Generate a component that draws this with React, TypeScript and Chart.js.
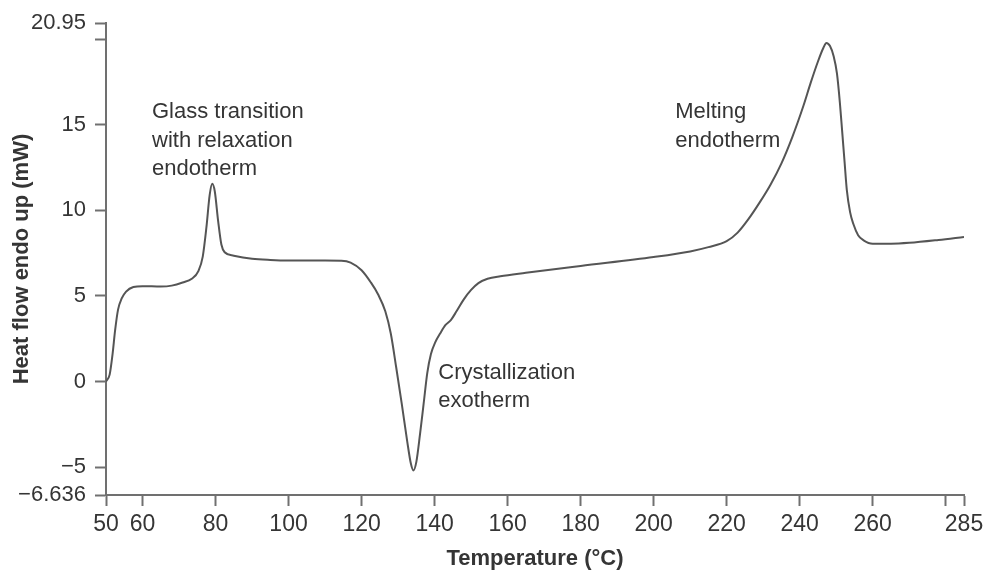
import React, { useEffect, useRef } from "react";
import { Chart, registerables } from "chart.js";

Chart.register(...registerables);

// DSC trace: temperature (°C) and heat flow, endo up (mW)
const temperatures = [
  50, 51, 51.8, 52.5, 53.3, 54.3, 55.5, 57.5, 60, 65, 68, 71, 73.5, 75.3, 76.5, 77.5,
  78.4, 79.1, 79.8, 80.7, 81.6, 82.5, 85, 90, 95, 100, 110, 114.5, 117, 120, 122.5,
  124.5, 126.5, 128, 129.5, 131, 132.5, 133.5, 134.2, 135, 136, 137, 138, 139, 140.2,
  141.5, 143, 144.5, 146, 148, 150, 152, 154.5, 158, 165, 180, 200, 210, 215, 220,
  223, 226, 229, 232, 235, 238, 241, 243, 245, 246.5, 247.3, 248.3, 249.3, 250.2,
  251, 251.6, 252.3, 252.9, 253.8, 254.7, 256, 257.5, 260, 265, 270, 278, 285,
];

const heatFlow = [
  0, 0.4, 1.6, 3.0, 4.2, 4.85, 5.25, 5.52, 5.57, 5.55, 5.6, 5.78, 6.0, 6.45, 7.3, 9.0,
  10.9, 11.55, 11.1, 9.4, 8.0, 7.55, 7.35, 7.17, 7.1, 7.07, 7.07, 7.06, 6.95, 6.5, 5.8,
  5.1, 4.1, 2.8, 0.8, -1.3, -3.5, -4.8, -5.2, -4.7, -3.1, -1.3, 0.5, 1.6, 2.3,
  2.8, 3.3, 3.6, 4.1, 4.8, 5.35, 5.75, 6.0, 6.15, 6.35, 6.75, 7.27, 7.6, 7.85, 8.2,
  8.7, 9.5, 10.45, 11.5, 12.75, 14.3, 16.1, 17.45, 18.7, 19.5, 19.78, 19.6, 19.0, 18.0,
  16.3, 14.7, 12.8, 11.2, 9.9, 9.2, 8.55, 8.25, 8.05, 8.05, 8.1, 8.27, 8.45,
];

const xTickValues = [50, 60, 80, 100, 120, 140, 160, 180, 200, 220, 240, 260, 280, 285];
const xUnlabeled = [280];
const yTickValues = [-6.636, -5, 0, 5, 10, 15, 20, 20.95];
const yUnlabeled = [20];

const xMin = 50;
const xMax = 285;
const yMin = -6.636;
const yMax = 20.95;

// Callout texts, anchored at (temperature, heat flow) of the first line's baseline
const calloutLines = [
  ["Glass transition", "with relaxation", "endotherm"],
  ["Crystallization", "exotherm"],
  ["Melting", "endotherm"],
];
const calloutTemps = [62.6, 141.0, 205.9];
const calloutFlows = [15.38, 0.17, 15.38];

const FONT = "'Liberation Sans', Arial, Helvetica, sans-serif";
const TEXT = "#353535";
const AXIS = "#707070";
const LINE = "#555555";

const fmt = (v: number) => {
  const s = String(v);
  return v < 0 ? "\u2212" + s.slice(1) : s;
};

const calloutPlugin = {
  id: "callouts",
  afterDatasetsDraw(chart: any) {
    const { ctx, scales } = chart;
    ctx.save();
    ctx.fillStyle = TEXT;
    ctx.font = `22px ${FONT}`;
    ctx.textAlign = "left";
    ctx.textBaseline = "alphabetic";
    calloutLines.forEach((lines, i) => {
      const px = scales.x.getPixelForValue(calloutTemps[i]);
      const py = scales.y.getPixelForValue(calloutFlows[i]);
      lines.forEach((line, j) => ctx.fillText(line, px, py + j * 28.5));
    });
    ctx.restore();
  },
};

export default function App() {
  const canvasRef = useRef<HTMLCanvasElement | null>(null);

  useEffect(() => {
    if (!canvasRef.current) return;
    const points = temperatures.map((t, i) => ({ x: t, y: heatFlow[i] }));

    const chart = new Chart(canvasRef.current, {
      type: "line",
      data: {
        datasets: [
          {
            data: points,
            borderColor: LINE,
            borderWidth: 2,
            pointRadius: 0,
            fill: false,
            cubicInterpolationMode: "monotone",
          },
        ],
      },
      options: {
        animation: false,
        responsive: true,
        maintainAspectRatio: false,
        layout: { padding: { top: 23, right: 21, bottom: 0, left: 0 } },
        plugins: {
          legend: { display: false },
          tooltip: { enabled: false },
        },
        scales: {
          x: {
            type: "linear",
            min: xMin,
            max: xMax,
            afterBuildTicks: (scale: any) => {
              scale.ticks = xTickValues.map((v) => ({ value: v }));
            },
            afterFit: (scale: any) => {
              scale.height = 76;
              scale.paddingLeft = 0;
              scale.paddingRight = 0;
            },
            ticks: {
              autoSkip: false,
              maxRotation: 0,
              padding: 5,
              color: TEXT,
              font: { family: FONT, size: 23 },
              callback: (v: any) => (xUnlabeled.includes(Number(v)) ? "" : fmt(Number(v))),
            },
            grid: {
              drawOnChartArea: false,
              drawTicks: true,
              tickLength: 11,
              tickWidth: 2,
              tickColor: AXIS,
            },
            border: { display: true, color: AXIS, width: 2 },
            title: {
              display: true,
              text: "Temperature (°C)",
              color: TEXT,
              font: { family: FONT, size: 22, weight: "bold", lineHeight: 1.1 },
              padding: { top: 0, bottom: 0 },
            },
          },
          y: {
            type: "linear",
            min: yMin,
            max: yMax,
            afterBuildTicks: (scale: any) => {
              scale.ticks = yTickValues.map((v) => ({ value: v }));
            },
            afterFit: (scale: any) => {
              scale.width = 106;
              scale.paddingTop = 0;
              scale.paddingBottom = 0;
            },
            ticks: {
              autoSkip: false,
              padding: 9,
              color: TEXT,
              font: { family: FONT, size: 22 },
              callback: (v: any) => (yUnlabeled.includes(Number(v)) ? "" : fmt(Number(v))),
            },
            grid: {
              drawOnChartArea: false,
              drawTicks: true,
              tickLength: 11,
              tickWidth: 2,
              tickColor: AXIS,
            },
            border: { display: true, color: AXIS, width: 2 },
            title: {
              display: true,
              text: "Heat flow endo up (mW)",
              color: TEXT,
              font: { family: FONT, size: 22, weight: "bold", lineHeight: 1.1 },
              padding: { top: 10, bottom: 0 },
            },
          },
        },
      },
      plugins: [calloutPlugin],
    } as any);

    return () => chart.destroy();
  }, []);

  return (
    <div
      style={{
        position: "fixed",
        left: 0,
        top: 0,
        width: 985,
        height: 571,
        background: "#ffffff",
      }}
    >
      <canvas ref={canvasRef} />
    </div>
  );
}
